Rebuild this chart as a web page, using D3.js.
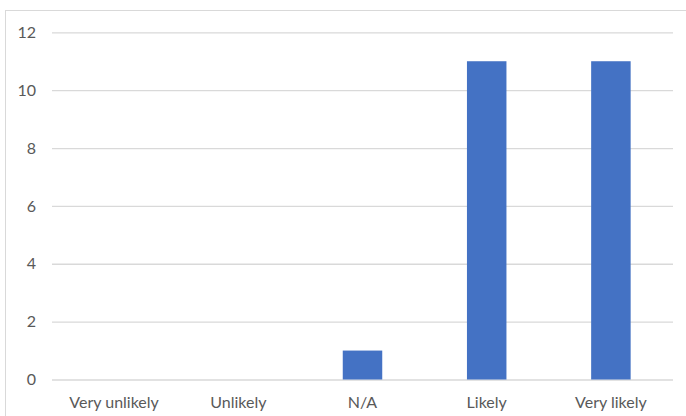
<!DOCTYPE html>
<html>
<head>
<meta charset="utf-8">
<script src="https://cdn.jsdelivr.net/npm/d3@7"></script>
<style>
  html, body { margin: 0; padding: 0; background: #fff; }
  svg { display: block; }
</style>
</head>
<body>
<script>
const categories = ["Very unlikely", "Unlikely", "N/A", "Likely", "Very likely"];
const values = [0, 0, 1, 11, 11];
const yTicks = [0, 2, 4, 6, 8, 10, 12];

const W = 686, H = 416;
const plot = { left: 52, right: 673, top: 32.3, bottom: 379.5 };
const font = "Lato, 'Liberation Sans', sans-serif";
const textColor = "#595959";

const svg = d3.select("body").append("svg").attr("width", W).attr("height", H);

// chart area border
svg.append("rect")
  .attr("x", 5.5).attr("y", 10.5)
  .attr("width", 720).attr("height", 440)
  .attr("fill", "#fff").attr("stroke", "#D9D9D9").attr("stroke-width", 1);

const x = d3.scaleBand()
  .domain(categories)
  .range([plot.left, plot.right])
  .paddingInner(0.682)
  .paddingOuter(0.341);

const y = d3.scaleLinear().domain([0, 12]).range([plot.bottom, plot.top]);

// gridlines
const yAxis = d3.axisLeft(y).tickValues(yTicks).tickSize(-(plot.right - plot.left)).tickPadding(16);
const gy = svg.append("g").attr("transform", `translate(${plot.left},0)`).call(yAxis);
gy.select(".domain").remove();
gy.selectAll(".tick line").attr("stroke", "#D9D9D9").attr("stroke-width", 1.3);
gy.selectAll(".tick text")
  .attr("fill", textColor)
  .style("font-family", font)
  .style("font-size", "16px");

// bars
svg.append("g").selectAll("rect")
  .data(categories.map((c, i) => ({ c, v: values[i] })))
  .join("rect")
  .attr("x", d => x(d.c))
  .attr("y", d => y(d.v))
  .attr("width", x.bandwidth())
  .attr("height", d => y(0) - y(d.v))
  .attr("fill", "#4472C4");

// x axis labels
const xAxis = d3.axisBottom(x).tickSize(0).tickPadding(17);
const gx = svg.append("g").attr("transform", `translate(0,${plot.bottom})`).call(xAxis);
gx.select(".domain").remove();
gx.selectAll(".tick text")
  .attr("fill", textColor)
  .style("font-family", font)
  .style("font-size", "16px");
</script>
</body>
</html>
